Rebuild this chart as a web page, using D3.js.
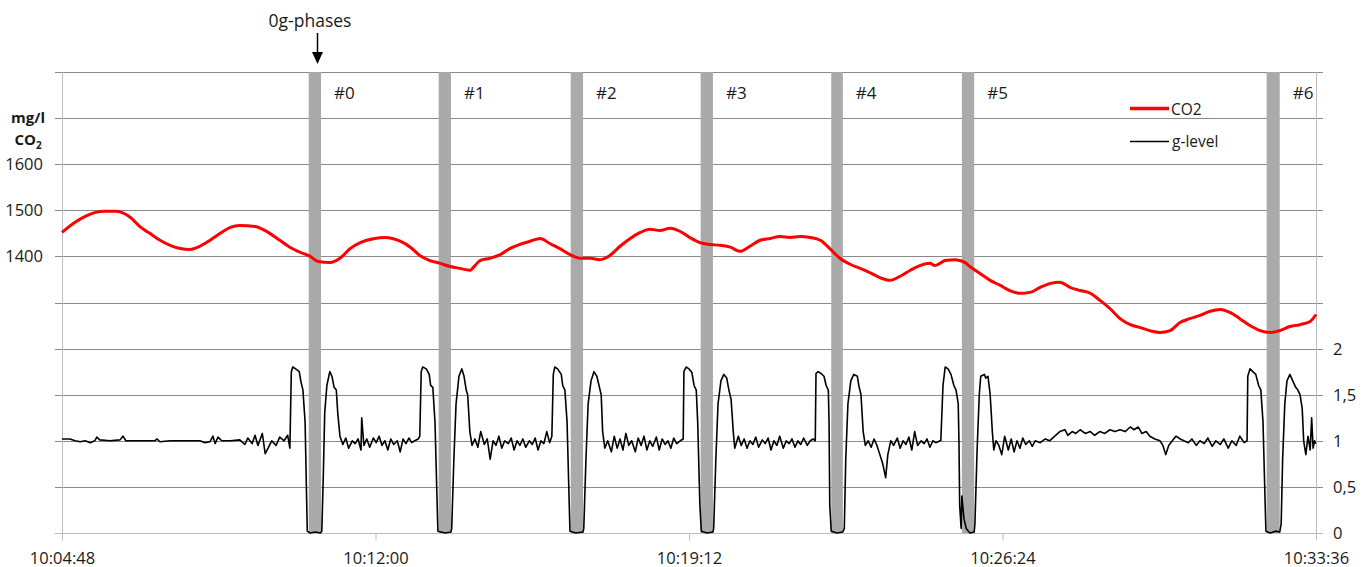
<!DOCTYPE html>
<html>
<head>
<meta charset="utf-8">
<script src="https://cdn.jsdelivr.net/npm/d3@7"></script>
<style>
  html, body { margin: 0; padding: 0; background: #fff; }
  svg { display: block; }
  text { font-family: "Open Sans", "Liberation Sans", sans-serif; fill: #1a1a1a; }
</style>
</head>
<body>
<svg id="chart" width="1368" height="567"></svg>
<script>
// ---------------- data ----------------
const startTime = "10:04:48";
const xTickLabels = ["10:04:48", "10:12:00", "10:19:12", "10:26:24", "10:33:36"];
const co2TickValues = [1400, 1500, 1600];
const co2GridValues = [800, 900, 1000, 1100, 1200, 1300, 1400, 1500, 1600, 1700, 1800];
const gTickValues = [0, 0.5, 1, 1.5, 2];
const gTickLabels = ["0", "0,5", "1", "1,5", "2"];

const phaseLabels = ["#0", "#1", "#2", "#3", "#4", "#5", "#6"];
const phaseStart = ["10:10:28", "10:13:27", "10:16:29", "10:19:28", "10:22:28", "10:25:28", "10:32:28"];
const phaseEnd   = ["10:10:45", "10:13:44", "10:16:46", "10:19:45", "10:22:44", "10:25:45", "10:32:46"];

// seconds after 10:04:48
const co2Time = [0,18,32,45,59,73,83,94,107,121,135,149,163,176,190,204,218,232,245,266,280,300,314,328,342,353,369,383,397,411,431,445,466,480,493,507,521,535,548,562,569,576,590,604,617,631,645,659,672,686,700,714,728,741,755,769,783,797,810,824,838,852,865,879,893,907,921,934,948,962,976,989,1003,1017,1031,1045,1058,1072,1086,1100,1113,1127,1141,1155,1169,1182,1196,1203,1217,1231,1244,1251,1265,1279,1293,1306,1320,1334,1348,1361,1375,1389,1403,1417,1430,1444,1458,1472,1485,1499,1513,1527,1541,1554,1568,1582,1596,1610,1623,1637,1651,1665,1678,1692,1706,1720,1728];
const co2Value = [1452,1474,1487,1495,1498,1498,1495,1485,1465,1450,1435,1424,1417,1415,1422,1435,1450,1463,1467,1465,1456,1435,1420,1409,1400,1389,1387,1396,1417,1430,1439,1441,1433,1420,1402,1391,1385,1378,1374,1370,1380,1391,1396,1404,1417,1426,1433,1439,1428,1417,1404,1396,1396,1393,1402,1422,1439,1452,1459,1456,1461,1454,1441,1430,1426,1424,1420,1411,1422,1435,1439,1443,1441,1443,1441,1435,1417,1396,1383,1374,1365,1354,1348,1357,1370,1380,1385,1380,1391,1393,1387,1378,1363,1348,1337,1326,1320,1322,1333,1341,1344,1333,1326,1320,1305,1287,1265,1252,1246,1239,1235,1239,1257,1265,1272,1281,1285,1278,1265,1250,1239,1235,1239,1248,1252,1259,1274];

const gTime = [0,11,18,25,32,39,45,48,52,66,80,84,88,101,114,128,131,135,149,163,176,190,197,204,208,211,215,220,232,245,252,256,262,266,270,276,280,284,289,295,300,306,311,314,
316,318,322,327,329,332,335,337,338,342,349,356,358,360,362,365,369,372,375,378,380,383,
387,391,395,400,404,408,412,413,416,420,424,429,433,437,441,445,449,453,457,462,466,470,474,478,482,486,491,493,
495,497,502,506,508,511,514,517,518,528,536,537,540,543,547,551,554,557,559,562,565,
569,573,577,582,586,590,594,598,602,606,610,615,619,623,627,631,635,639,644,648,652,656,660,664,668,672,675,
677,679,683,688,690,693,696,699,700,708,718,719,722,725,729,733,737,740,743,745,748,
752,757,761,765,769,773,777,781,785,790,794,798,802,806,810,814,819,823,827,831,835,839,843,847,852,856,
857,860,864,868,871,874,876,879,881,889,897,898,901,904,908,912,916,919,922,925,927,
932,936,940,944,948,952,956,960,965,969,973,977,981,985,989,994,998,1002,1006,1010,1014,1018,1022,1027,1031,1035,1038,
1039,1042,1046,1050,1053,1056,1057,1058,1060,1068,1076,1078,1080,1083,1087,1091,1096,1098,1101,1104,1107,
1111,1115,1119,1123,1127,1131,1135,1138,1142,1146,1151,1155,1159,1163,1167,1171,1175,1179,1184,1188,1192,1196,1200,1204,1210,
1211,1214,1217,1221,1225,1229,1232,1235,1236,1237,1239,1240,1243,1246,1251,1257,1258,1261,1264,1266,1271,1273,1276,1279,1282,1284,1287,
1291,1295,1299,1304,1308,1312,1316,1320,1324,1328,1333,1337,1341,1348,1355,1361,1368,1375,1382,1386,1392,1397,1403,1410,1417,1423,1430,1437,1444,1451,1458,1465,1472,1477,1483,1488,1494,1499,1506,1513,1517,1521,1525,1530,1535,1541,1546,1552,1557,1563,1568,1574,1579,1585,1590,1596,1601,1607,1612,1618,1623,1629,1633,
1634,1637,1641,1645,1649,1652,1655,1658,1659,1665,1672,1678,1680,1682,1685,1688,1692,1696,1700,1703,1706,1709,1711,1714,1717,1720,1722,1724,1726,1728];
const gValue = [1.02,1.02,1.0,0.99,1.0,0.98,1.0,1.04,1.01,1.0,1.01,1.05,1.0,1.0,1.0,1.0,1.02,0.99,1.0,1.0,1.0,1.0,0.98,0.99,1.05,0.97,1.04,1.0,1.0,1.01,0.96,1.03,0.97,1.06,0.95,1.08,0.86,0.92,1.0,0.95,1.04,1.0,1.06,0.92,
1.75,1.8,1.78,1.75,1.65,1.55,1.2,0.4,0.02,0.0,0.01,0.0,0.02,0.6,1.3,1.6,1.75,1.7,1.58,1.55,1.3,1.05,
0.96,1.03,0.92,1.0,0.97,1.02,0.9,1.25,0.95,1.02,0.93,1.03,0.98,1.05,0.95,1.0,0.9,1.02,0.96,1.0,0.88,1.02,0.97,1.03,0.98,1.0,1.02,1.05,
1.75,1.8,1.78,1.72,1.6,1.58,1.2,0.3,0.02,0.0,0.01,0.05,0.8,1.4,1.7,1.78,1.7,1.55,1.5,1.1,0.95,
1.02,0.93,1.1,0.96,1.02,0.8,1.0,0.95,1.05,0.92,1.0,0.97,1.03,0.9,1.0,0.95,1.02,0.93,1.0,0.96,1.03,0.9,1.0,0.97,1.1,0.98,1.05,
1.72,1.8,1.78,1.72,1.6,1.55,1.2,0.3,0.02,0.0,0.01,0.05,0.8,1.4,1.65,1.75,1.7,1.6,1.5,1.1,0.92,
1.0,0.88,1.05,0.92,1.02,0.9,1.08,0.95,1.0,0.88,1.03,0.95,1.05,0.9,1.0,0.94,1.04,0.9,1.02,0.96,1.0,0.92,1.03,0.97,1.0,1.02,
1.75,1.8,1.78,1.74,1.6,1.55,1.2,0.3,0.02,0.0,0.01,0.05,0.8,1.4,1.65,1.72,1.68,1.55,1.45,1.1,0.92,
1.05,0.95,1.02,0.92,1.0,0.96,1.04,0.93,1.01,0.97,1.03,0.9,1.0,0.95,1.05,0.92,1.0,0.97,1.02,0.93,1.0,0.96,1.03,0.95,1.0,1.02,1.0,
1.73,1.75,1.73,1.7,1.6,1.55,1.2,0.3,0.02,0.0,0.01,0.05,0.8,1.4,1.65,1.72,1.7,1.6,1.5,1.1,0.95,
1.0,0.93,1.02,0.95,0.85,0.75,0.6,0.85,1.0,0.95,1.03,0.92,1.0,0.96,1.04,0.9,1.1,0.95,1.0,0.97,1.02,0.93,1.0,0.98,1.0,
1.0,1.6,1.8,1.78,1.72,1.6,1.55,1.4,1.0,0.3,0.05,0.4,0.15,0.05,0.0,0.01,0.1,0.9,1.5,1.7,1.72,1.68,1.7,1.5,1.1,0.9,1.0,
0.95,0.85,1.05,0.9,1.02,0.88,1.0,0.92,1.03,0.96,1.0,0.94,1.0,0.98,1.02,1.0,1.05,1.1,1.12,1.06,1.1,1.08,1.12,1.08,1.1,1.06,1.1,1.08,1.12,1.1,1.12,1.1,1.15,1.12,1.15,1.08,1.1,1.05,1.02,1.0,0.95,0.85,0.95,1.0,1.05,1.02,1.0,0.98,1.02,0.95,1.0,0.97,1.03,0.94,1.0,0.96,1.02,0.92,1.0,0.95,1.05,0.98,1.0,
1.7,1.78,1.75,1.72,1.6,1.55,1.2,0.3,0.02,0.0,0.02,0.01,0.1,0.8,1.4,1.65,1.72,1.65,1.58,1.55,1.5,1.35,1.0,0.85,1.05,0.9,1.25,0.92,1.0,0.97];

const legendItems = ["CO2", "g-level"];

// ---------------- chart ----------------
(function () {
const svg = d3.select("#chart");
const parse = d3.timeParse("%H:%M:%S");
const t0 = parse(startTime);
const off = s => new Date(t0.getTime() + s * 1000);

const pL = 62, pR = 1316, pT = 72, pB = 533;
const x = d3.scaleTime().domain([parse(xTickLabels[0]), parse(xTickLabels[xTickLabels.length - 1])]).range([pL, pR]);
const yL = d3.scaleLinear().domain([800, 1800]).range([pB, pT]);
const yR = d3.scaleLinear().domain([0, 5]).range([pB, pT]);

const gridColor = "#8a8a8a";
const axisColor = "#bdbdbd";

// gridlines
svg.append("g").selectAll("line").data(co2GridValues.slice(1)).join("line")
  .attr("x1", pL - 7).attr("x2", pR + 7)
  .attr("y1", d => Math.round(yL(d)) + 0.5).attr("y2", d => Math.round(yL(d)) + 0.5)
  .attr("stroke", gridColor).attr("stroke-width", 1);

// 0g phase bars
const phases = phaseLabels.map((l, i) => ({ label: l, s: parse(phaseStart[i]), e: parse(phaseEnd[i]) }));
svg.append("g").selectAll("rect").data(phases).join("rect")
  .attr("x", d => x(d.s)).attr("width", d => x(d.e) - x(d.s))
  .attr("y", pT).attr("height", pB - pT)
  .attr("fill", "#aaaaaa");

svg.append("g").selectAll("text").data(phases).join("text")
  .attr("x", d => x(d.e) + 13).attr("y", 99)
  .attr("font-size", 17).text(d => d.label);

// x axis
const xAxis = d3.axisBottom(x)
  .tickValues(xTickLabels.map(parse))
  .tickFormat(d3.timeFormat("%H:%M:%S"))
  .tickSize(7).tickSizeOuter(0);
const gx = svg.append("g").attr("transform", `translate(0,${Math.round(pB) + 0.5})`).call(xAxis);
gx.select(".domain").attr("stroke", axisColor).attr("d", `M${pL - 7},0H${pR + 7}`);
gx.selectAll(".tick line").attr("stroke", axisColor);
gx.selectAll(".tick text").attr("font-size", 16.5).attr("fill", "#1a1a1a").attr("dy", 0).attr("y", 30)
  .attr("font-family", '"Open Sans", sans-serif');

// left / right vertical axis lines
svg.append("line").attr("x1", pL + 0.5).attr("x2", pL + 0.5).attr("y1", pT).attr("y2", pB + 7)
  .attr("stroke", axisColor);
svg.append("line").attr("x1", pR + 0.5).attr("x2", pR + 0.5).attr("y1", pT).attr("y2", pB + 7)
  .attr("stroke", axisColor);

// left tick labels
svg.append("g").selectAll("text").data(co2TickValues).join("text")
  .attr("x", 43).attr("y", d => yL(d)).attr("dy", "0.36em")
  .attr("text-anchor", "end").attr("font-size", 16.5).text(d => d);

// left unit label
const unit = svg.append("g").attr("font-weight", "bold").attr("font-size", 15);
unit.append("text").attr("x", 28).attr("y", 123).attr("text-anchor", "middle").text("mg/l");
const co2t = unit.append("text").attr("x", 28).attr("y", 145).attr("text-anchor", "middle");
co2t.append("tspan").text("CO");
co2t.append("tspan").attr("font-size", 10).attr("dy", 4).text("2");

// right tick labels
svg.append("g").selectAll("text").data(gTickValues).join("text")
  .attr("x", 1333).attr("y", d => yR(d)).attr("dy", "0.36em")
  .attr("font-size", 16.5).text((d, i) => gTickLabels[i]);

// lines
const co2Data = d3.zip(co2Time, co2Value);
const gData = d3.zip(gTime, gValue);

svg.append("path").datum(gData)
  .attr("fill", "none").attr("stroke", "#000").attr("stroke-width", 1.6).attr("stroke-linejoin", "round")
  .attr("d", d3.line().x(d => x(off(d[0]))).y(d => yR(d[1])));

svg.append("path").datum(co2Data)
  .attr("fill", "none").attr("stroke", "#ff0000").attr("stroke-width", 3).attr("stroke-linejoin", "round")
  .attr("d", d3.line().x(d => x(off(d[0]))).y(d => yL(d[1])).curve(d3.curveMonotoneX));

// legend
const lg = svg.append("g");
lg.append("line").attr("x1", 1130).attr("x2", 1169).attr("y1", 108.5).attr("y2", 108.5)
  .attr("stroke", "#ff0000").attr("stroke-width", 3.5);
lg.append("text").attr("x", 1171).attr("y", 114.5).attr("font-size", 15.5).text(legendItems[0]);
lg.append("line").attr("x1", 1130).attr("x2", 1169).attr("y1", 141.5).attr("y2", 141.5)
  .attr("stroke", "#000").attr("stroke-width", 1.5);
lg.append("text").attr("x", 1172).attr("y", 146.5).attr("font-size", 15.5).text(legendItems[1]);

// annotation
svg.append("text").attr("x", 310).attr("y", 27).attr("text-anchor", "middle").attr("font-size", 17.5).text("0g-phases");
svg.append("line").attr("x1", 317.5).attr("x2", 317.5).attr("y1", 33).attr("y2", 54)
  .attr("stroke", "#000").attr("stroke-width", 1.5);
svg.append("path").attr("d", "M312,52 L323,52 L317.5,64 Z").attr("fill", "#000");
})();
</script>
</body>
</html>
